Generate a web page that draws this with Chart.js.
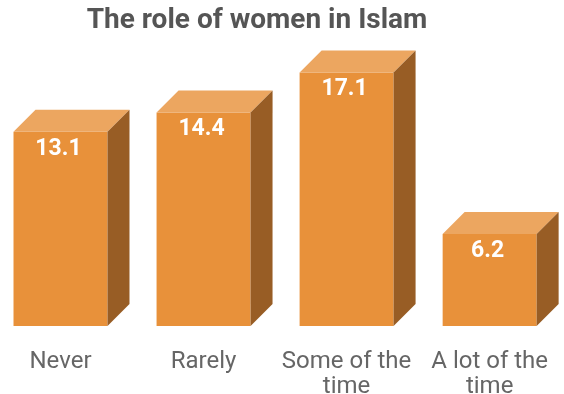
<!DOCTYPE html>
<html>
<head>
<meta charset="utf-8">
<script src="https://cdn.jsdelivr.net/npm/chart.js@4"></script>
<style>
  html, body { margin: 0; padding: 0; background: #fff; }
  #wrap { width: 564px; height: 394px; position: relative; }
</style>
</head>
<body>
<div id="wrap"><canvas id="c"></canvas></div>
<script>
// Survey answers: how often the role of women in Islam comes up
const categories = [["Never"], ["Rarely"], ["Some of the", "time"], ["A lot of the", "time"]];
const values = [13.1, 14.4, 17.1, 6.2];
const titleText = "The role of women in Islam";

const FRONT = "#E8913A";
const TOP = "#ECA660";
const SIDE = "#985D25";
const DEPTH = 22;

// Adds a top and right face to every bar so the columns read as boxes,
// then writes each value near the top of the front face.
const boxes = {
  id: "boxes",
  afterDatasetsDraw(chart) {
    const ctx = chart.ctx;
    const meta = chart.getDatasetMeta(0);
    const data = chart.data.datasets[0].data;
    meta.data.forEach((bar, i) => {
      const p = bar.getProps(["x", "y", "base", "width"], true);
      const l = p.x - p.width / 2, r = p.x + p.width / 2;
      const t = p.y, b = p.base, d = DEPTH;
      ctx.save();
      ctx.fillStyle = TOP;
      ctx.beginPath();
      ctx.moveTo(l, t);
      ctx.lineTo(l + d, t - d);
      ctx.lineTo(r + d, t - d);
      ctx.lineTo(r, t);
      ctx.closePath();
      ctx.fill();
      ctx.fillStyle = SIDE;
      ctx.beginPath();
      ctx.moveTo(r, t);
      ctx.lineTo(r + d, t - d);
      ctx.lineTo(r + d, b - d);
      ctx.lineTo(r, b);
      ctx.closePath();
      ctx.fill();
      ctx.fillStyle = "#ffffff";
      ctx.font = "bold 23px Roboto";
      ctx.textAlign = "center";
      ctx.textBaseline = "middle";
      ctx.fillText(data[i].toFixed(1), p.x - 2, t + 17);
      ctx.restore();
    });
  },
  afterDraw(chart) {
    const ctx = chart.ctx;
    ctx.save();
    ctx.fillStyle = "#555555";
    ctx.font = "bold 28px Roboto";
    ctx.textAlign = "center";
    ctx.textBaseline = "middle";
    ctx.fillText(titleText, 257, 21);
    ctx.restore();
  }
};

new Chart(document.getElementById("c"), {
  type: "bar",
  data: {
    labels: categories,
    datasets: [{
      data: values,
      backgroundColor: FRONT,
      borderWidth: 0,
      categoryPercentage: 1,
      barPercentage: 0.657,
      clip: false
    }]
  },
  options: {
    responsive: true,
    maintainAspectRatio: false,
    animation: false,
    layout: { padding: { left: 60.5, right: 69.5, top: 34, bottom: 0 } },
    plugins: {
      legend: { display: false },
      tooltip: { enabled: false },
      title: { display: false }
    },
    scales: {
      x: {
        offset: false,
        grid: { display: false },
        border: { display: false },
        afterFit(scale) { scale.height = 68; },
        ticks: {
          color: "#666666",
          font: { family: "Roboto", size: 24, lineHeight: 1.02 },
          padding: 16,
          maxRotation: 0,
          autoSkip: false
        }
      },
      y: {
        display: false,
        min: 0,
        max: 19.7
      }
    }
  },
  plugins: [boxes]
});
</script>
</body>
</html>
